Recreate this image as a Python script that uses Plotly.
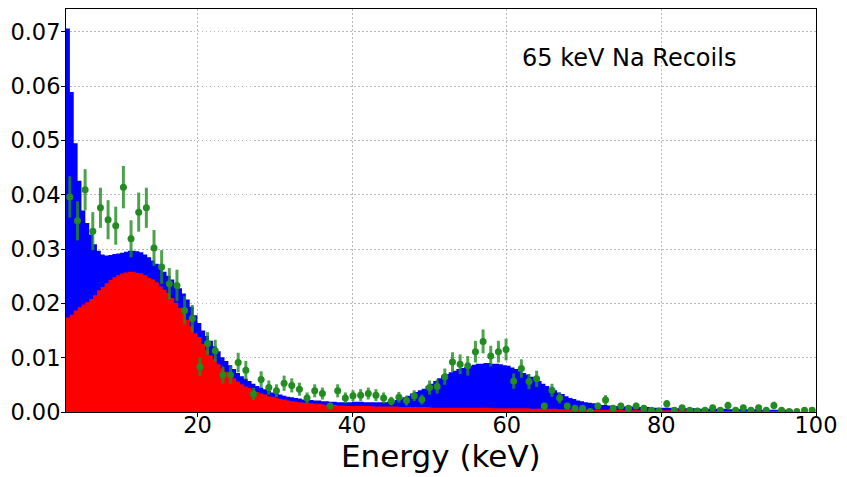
import numpy as np
import plotly.graph_objects as go

# simulated spectra, 0.5 keV bins from 3 to 100 keV
bin_lo = 3.0
bin_w = 0.5

total_sim = [
    0.0706, 0.0589, 0.0495, 0.0426, 0.0371, 0.0348, 0.0327, 0.0309, 0.0297, 0.0290,
    0.0288, 0.0289, 0.0291, 0.0292, 0.0293, 0.0295, 0.0297, 0.0297, 0.0296, 0.0294,
    0.0290, 0.0285, 0.0279, 0.0273, 0.0265, 0.0258, 0.0251, 0.0244, 0.0237, 0.0228,
    0.0218, 0.0207, 0.0194, 0.0178,
    0.0164, 0.0150, 0.0140, 0.0131, 0.0121, 0.0112, 0.0101, 0.0094, 0.0086, 0.0079,
    0.0072, 0.0066, 0.0061, 0.0057, 0.0052, 0.0048, 0.0045, 0.0042, 0.0039, 0.0036,
    0.0034, 0.0032, 0.0030, 0.0028, 0.0027, 0.0026, 0.0025, 0.0023, 0.0023, 0.0022,
    0.0021, 0.0021, 0.0020, 0.0020, 0.0019, 0.0019, 0.0018, 0.0018, 0.0018, 0.0018,
    0.0019, 0.0019, 0.0019, 0.0018, 0.0018, 0.0018, 0.0018, 0.0018, 0.0018, 0.0019,
    0.0020, 0.0022, 0.0024, 0.0027, 0.0030, 0.0034, 0.0037, 0.0040, 0.0043, 0.0048,
    0.0052, 0.0057, 0.0062, 0.0067, 0.0070, 0.0073, 0.0076, 0.0079, 0.0081, 0.0083,
    0.0085, 0.0087, 0.0089, 0.0089, 0.0090, 0.0090, 0.0089, 0.0089, 0.0088, 0.0086,
    0.0085, 0.0082, 0.0079, 0.0075, 0.0072, 0.0069, 0.0065, 0.0061, 0.0057, 0.0052,
    0.0048, 0.0044, 0.0040, 0.0036, 0.0033, 0.0029, 0.0026, 0.0024, 0.0021, 0.0020,
    0.0018, 0.0017, 0.0016, 0.0015, 0.0013, 0.0013, 0.0012, 0.0012, 0.0011, 0.0010,
    0.0010, 0.0010, 0.0010, 0.0009, 0.0009, 0.0009, 0.0009, 0.0008, 0.0008, 0.0008,
    0.0008, 0.0008, 0.0008, 0.0008, 0.0007, 0.0007, 0.0007, 0.0007, 0.0007, 0.0007,
    0.0006, 0.0006, 0.0006, 0.0006, 0.0006, 0.0006, 0.0006, 0.0005, 0.0005, 0.0005,
    0.0005, 0.0005, 0.0005, 0.0005, 0.0005, 0.0004, 0.0004, 0.0004, 0.0004, 0.0004,
    0.0004, 0.0004, 0.0004, 0.0004,
]

recoil_sim = [
    0.0174, 0.0179, 0.0187, 0.0193, 0.0198, 0.0202, 0.0208, 0.0215, 0.0224, 0.0230,
    0.0237, 0.0243, 0.0248, 0.0252, 0.0255, 0.0257, 0.0258, 0.0258, 0.0256, 0.0255,
    0.0252, 0.0247, 0.0244, 0.0239, 0.0231, 0.0225, 0.0219, 0.0210, 0.0201, 0.0192,
    0.0182, 0.0170, 0.0158, 0.0145,
    0.0138, 0.0125, 0.0114, 0.0104, 0.0097, 0.0088, 0.0080, 0.0074, 0.0068, 0.0062,
    0.0056, 0.0051, 0.0047, 0.0044, 0.0040, 0.0037, 0.0034, 0.0032, 0.0029, 0.0028,
    0.0026, 0.0024, 0.0023, 0.0021, 0.0020, 0.0019, 0.0018, 0.0017, 0.0017, 0.0016,
    0.0015, 0.0015, 0.0014, 0.0013, 0.0013, 0.0013, 0.0012, 0.0012, 0.0011, 0.0011,
    0.0011, 0.0011, 0.0011, 0.0011, 0.0011, 0.0010, 0.0010, 0.0010, 0.0010, 0.0010,
    0.0010, 0.0010, 0.0009, 0.0009, 0.0009, 0.0009, 0.0009, 0.0009, 0.0009, 0.0009,
    0.0008, 0.0008, 0.0008, 0.0008, 0.0008, 0.0008, 0.0008, 0.0008, 0.0008, 0.0008,
    0.0008, 0.0008, 0.0008, 0.0008, 0.0008, 0.0008, 0.0007, 0.0007, 0.0007, 0.0007,
    0.0007, 0.0007, 0.0007, 0.0007, 0.0007, 0.0007, 0.0006, 0.0006, 0.0006, 0.0006,
    0.0006, 0.0006, 0.0006, 0.0005, 0.0005, 0.0005, 0.0005, 0.0005, 0.0005, 0.0005,
    0.0005, 0.0005, 0.0004, 0.0004, 0.0004, 0.0004, 0.0004, 0.0004, 0.0004, 0.0004,
    0.0003, 0.0003, 0.0003, 0.0003, 0.0003, 0.0003, 0.0003, 0.0003, 0.0003, 0.0003,
    0.0003, 0.0003, 0.0003, 0.0003, 0.0003, 0.0003, 0.0003, 0.0003, 0.0003, 0.0003,
    0.0002, 0.0002, 0.0002, 0.0002, 0.0002, 0.0002, 0.0002, 0.0002, 0.0002, 0.0002,
    0.0002, 0.0002, 0.0002, 0.0002, 0.0002, 0.0002, 0.0002, 0.0002, 0.0002, 0.0002,
    0.0002, 0.0002, 0.0002, 0.0002,
]

# measured data, 98 bins over 3-100 keV
data_lo = 3.0
data_hi = 100.0

data_rate = [
    0.0396, 0.0352, 0.0409, 0.0333, 0.0376, 0.0354, 0.0343, 0.0414, 0.0319, 0.0368,
    0.0376, 0.0302, 0.0267, 0.0236, 0.0233, 0.0187, 0.0172, 0.0083, 0.0126, 0.0113,
    0.0068, 0.0068, 0.0091, 0.0077, 0.0033, 0.0060, 0.0045, 0.0039, 0.0053, 0.0049,
    0.0042, 0.0026, 0.0039, 0.0034, 0.0011, 0.0039, 0.0026, 0.0030, 0.0031, 0.0034,
    0.0031, 0.0026, 0.0020, 0.0027, 0.0021, 0.0030, 0.0023, 0.0045, 0.0047, 0.0065,
    0.0092, 0.0088, 0.0085, 0.0111, 0.0130, 0.0103, 0.0111, 0.0115, 0.0057, 0.0080,
    0.0056, 0.0061, 0.0011, 0.0040, 0.0026, 0.0011, 0.0007, 0.0007, 0.0001, 0.0011,
    0.0022, 0.0007, 0.0011, 0.0007, 0.0011, 0.0007, 0.0003, 0.0002, 0.0015, 0.0003,
    0.0008, 0.0003, 0.0002, 0.0003, 0.0008, 0.0003, 0.0012, 0.0003, 0.0008, 0.0003,
    0.0008, 0.0003, 0.0012, 0.0003, 0.0001, 0.0001, 0.0003, 0.0003,
]

data_err = [
    0.0038, 0.0036, 0.0038, 0.0035, 0.0037, 0.0036, 0.0035, 0.0039, 0.0034, 0.0036,
    0.0037, 0.0033, 0.0031, 0.0029, 0.0029, 0.0026, 0.0025, 0.0017, 0.0021, 0.0020,
    0.0016, 0.0016, 0.0018, 0.0017, 0.0011, 0.0015, 0.0013, 0.0012, 0.0014, 0.0013,
    0.0012, 0.0010, 0.0012, 0.0011, 0.0006, 0.0012, 0.0010, 0.0010, 0.0011, 0.0011,
    0.0011, 0.0010, 0.0008, 0.0010, 0.0009, 0.0010, 0.0009, 0.0013, 0.0013, 0.0015,
    0.0018, 0.0018, 0.0018, 0.0020, 0.0022, 0.0019, 0.0020, 0.0020, 0.0014, 0.0017,
    0.0014, 0.0015, 0.0006, 0.0012, 0.0010, 0.0006, 0.0005, 0.0005, 0.0002, 0.0006,
    0.0009, 0.0005, 0.0006, 0.0005, 0.0006, 0.0005, 0.0003, 0.0003, 0.0007, 0.0003,
    0.0005, 0.0003, 0.0003, 0.0003, 0.0005, 0.0003, 0.0007, 0.0003, 0.0005, 0.0003,
    0.0005, 0.0003, 0.0007, 0.0003, 0.0002, 0.0002, 0.0003, 0.0003,
]

x_ticks = [20, 40, 60, 80, 100]
y_ticks = [0.00, 0.01, 0.02, 0.03, 0.04, 0.05, 0.06, 0.07]

FONT = "DejaVu Sans"


def step_xy(values, lo, width):
    """Edges/values for an hv-shaped filled step histogram."""
    edges = lo + width * np.arange(len(values) + 1)
    return edges, list(values) + [values[-1]]


fig = go.Figure()

ex, ey = step_xy(total_sim, bin_lo, bin_w)
fig.add_trace(go.Scatter(
    x=ex, y=ey, mode="lines", line={"shape": "hv", "width": 0, "color": "#0000ff"},
    fill="tozeroy", fillcolor="#0000ff", showlegend=False, hoverinfo="skip",
))
ex, ey = step_xy(recoil_sim, bin_lo, bin_w)
fig.add_trace(go.Scatter(
    x=ex, y=ey, mode="lines", line={"shape": "hv", "width": 0, "color": "#ff0000"},
    fill="tozeroy", fillcolor="#ff0000", showlegend=False, hoverinfo="skip",
))

n = len(data_rate)
dw = (data_hi - data_lo) / n
data_x = data_lo + dw * (np.arange(n) + 0.5)
fig.add_trace(go.Scatter(
    x=data_x, y=data_rate, mode="markers",
    marker={"color": "#228b22", "size": 7},
    error_y={"type": "data", "array": data_err, "color": "rgba(34,139,34,0.8)",
             "thickness": 3, "width": 0},
    showlegend=False, cliponaxis=True,
))

fig.add_annotation(
    x=0.751, y=0.878, xref="paper", yref="paper", text="65 keV Na Recoils",
    showarrow=False, xanchor="center", yanchor="middle",
    font={"family": FONT, "size": 24, "color": "black"},
)
fig.add_annotation(
    x=0.5, y=-0.108, xref="paper", yref="paper", text="Energy (keV)",
    showarrow=False, xanchor="center", yanchor="middle",
    font={"family": FONT, "size": 31, "color": "black"},
)

axis_common = dict(
    showline=True, linecolor="black", linewidth=1, mirror=True,
    showgrid=True, gridcolor="#b8b8b8", griddash="1.5px,2.5px", gridwidth=1.2,
    ticks="outside", ticklen=4, tickcolor="black", zeroline=False,
    tickfont={"family": FONT, "size": 22.5, "color": "black"},
    layer="above traces", automargin=False,
)
# the page body adds an 8px offset, so the figure is sized to fit inside it
fig.update_layout(
    width=839, height=469,
    margin={"l": 58, "r": 31, "t": 1, "b": 65},
    plot_bgcolor="white", paper_bgcolor="white",
    xaxis=dict(axis_common, range=[3, 100], tickvals=x_ticks, ticklabelstandoff=-11),
    yaxis=dict(axis_common, range=[0, 0.0742], tickvals=y_ticks, tickformat=".2f",
               ticklabelstandoff=-4),
)

fig.write_html("out.html")
